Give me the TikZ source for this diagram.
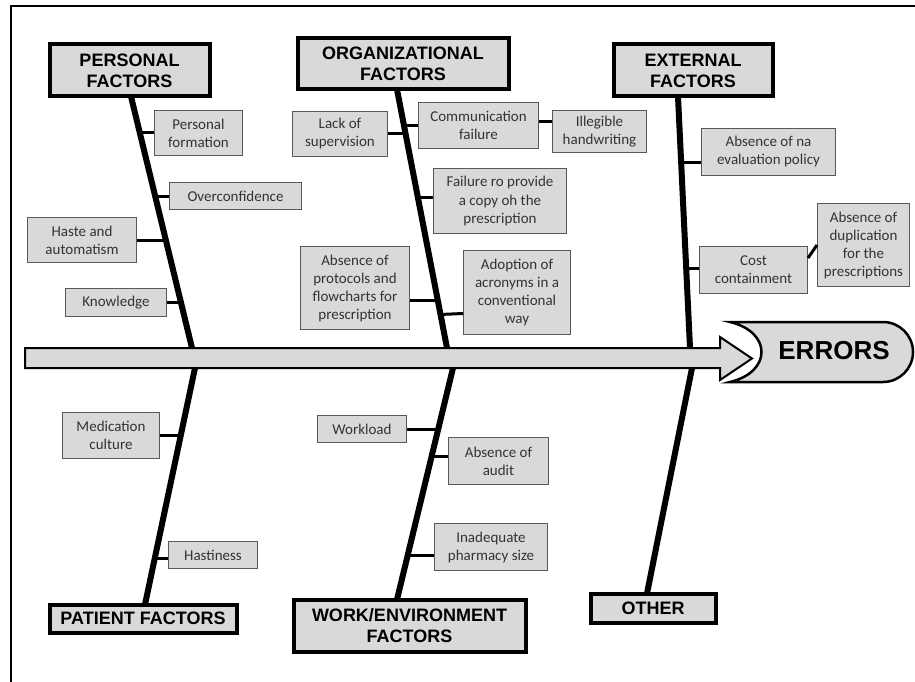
\documentclass[tikz,border=0pt]{standalone}
\usepackage{fontspec}
\setmainfont{Carlito}
\newfontfamily\headfont{Liberation Sans}
\definecolor{boxgray}{HTML}{D9D9D9}
\definecolor{sboxline}{HTML}{595959}
\definecolor{stext}{HTML}{333333}
\tikzset{
  hbox/.style={draw=black, line width=4pt, fill=boxgray, inner sep=0pt, align=center,
    font=\headfont\bfseries\fontsize{18}{21}\selectfont},
  sbox/.style={draw=sboxline, line width=1pt, fill=boxgray, inner sep=0pt, align=center,
    text=stext, font=\fontsize{15}{18}\selectfont},
  spine/.style={line width=6pt, black},
  conn/.style={line width=3pt, black},
}
\begin{document}
\begin{tikzpicture}[x=1pt,y=-1pt]
\useasboundingbox (0,0) rectangle (915,682);
% frame (only top and left visible)
\draw[line width=2pt] (11,684) -- (11,6) -- (917,6);

% heading boxes
\node[hbox, minimum width=160pt, minimum height=52pt] (pers) at (129.5,70.5) {PERSONAL\\FACTORS};
\node[hbox, minimum width=211pt, minimum height=51pt] (org) at (403,64) {ORGANIZATIONAL\\FACTORS};
\node[hbox, minimum width=159pt, minimum height=52pt] (ext) at (693,70.5) {EXTERNAL\\FACTORS};
\node[hbox, minimum width=187pt, minimum height=28pt] (pat) at (143,618.5) {PATIENT FACTORS};
\node[hbox, minimum width=232pt, minimum height=52pt] (work) at (409.5,625.5) {WORK/ENVIRONMENT\\FACTORS};
\node[hbox, minimum width=125pt, minimum height=29pt] (oth) at (653,608) {OTHER};

% small boxes
\node[sbox, minimum width=88pt, minimum height=45pt] (pf) at (198.5,133) {Personal\\formation};
\node[sbox, minimum width=132pt, minimum height=27pt] (oc) at (235.5,196) {Overconfidence};
\node[sbox, minimum width=109pt, minimum height=45pt] (ha) at (82,240) {Haste and\\automatism};
\node[sbox, minimum width=101pt, minimum height=28pt] (kn) at (116,302.5) {Knowledge};
\node[sbox, minimum width=95pt, minimum height=45pt] (ls) at (340,134) {Lack of\\supervision};
\node[sbox, minimum width=120pt, minimum height=46pt] (cf) at (478.5,125.5) {Communication\\failure};
\node[sbox, minimum width=94pt, minimum height=42pt] (ih) at (599.5,131.5) {Illegible\\handwriting};
\node[sbox, minimum width=133pt, minimum height=65pt] (fp) at (500,201) {Failure ro provide\\a copy oh the\\prescription};
\node[sbox, minimum width=109pt, minimum height=83pt] (ap) at (355,288) {Absence of\\protocols and\\flowcharts for\\prescription};
\node[sbox, minimum width=107pt, minimum height=84pt] (aa) at (517,292.5) {Adoption of\\acronyms in a\\conventional\\way};
\node[sbox, minimum width=134pt, minimum height=47pt] (ae) at (768.5,152) {Absence of na\\evaluation policy};
\node[sbox, minimum width=108pt, minimum height=47pt] (cc) at (753.5,270) {Cost\\containment};
\node[sbox, minimum width=92pt, minimum height=83pt] (du) at (863.5,245) {Absence of\\duplication\\for the\\prescriptions};
\node[sbox, minimum width=97pt, minimum height=46pt] (mc) at (111,435.5) {Medication\\culture};
\node[sbox, minimum width=89pt, minimum height=27pt] (hs) at (213,555) {Hastiness};
\node[sbox, minimum width=89pt, minimum height=27pt] (wl) at (362,429) {Workload};
\node[sbox, minimum width=100pt, minimum height=47pt] (au) at (498.5,461) {Absence of\\audit};
\node[sbox, minimum width=113pt, minimum height=47pt] (ip) at (491,547) {Inadequate\\pharmacy size};

% spine end points on the main arrow
\coordinate (a1) at (192,348);
\coordinate (a2) at (447,348);
\coordinate (a3) at (690,348);
\coordinate (b1) at (195,368);
\coordinate (b2) at (453,368);
\coordinate (b3) at (692,368);

% spines
\draw[spine] ([xshift=1.5pt,yshift=2pt]pers.south) -- (a1);
\draw[spine] ([xshift=-6pt,yshift=2pt]org.south) -- (a2);
\draw[spine] ([xshift=-15pt,yshift=2pt]ext.south) -- (a3);
\draw[spine] ([xshift=2pt,yshift=-2pt]pat.north) -- (b1);
\draw[spine] ([xshift=-12.5pt,yshift=-2pt]work.north) -- (b2);
\draw[spine] ([xshift=-6pt,yshift=-2pt]oth.north) -- (b3);

% connectors
\draw[conn] (pf.west) -- ++(-16,0);
\draw[conn] (oc.west) -- ++(-16,0);
\draw[conn] (ha.east) -- ++(30,0);
\draw[conn] (kn.east) -- ++(16,0);
\draw[conn] (ls.east) -- ++(18,0);
\draw[conn] (cf.west) -- ++(-16,0);
\draw[conn] ([yshift=4pt]cf.east) -- ([yshift=4pt]cf.east -| ih.west);
\draw[conn] ([yshift=4pt]fp.west) -- ++(-16,0);
\draw[conn] ([yshift=-12pt]ap.east) -- ++(29,0);
\draw[conn] ([yshift=-21pt]aa.west) -- ++(-23,1);
\draw[conn] ([yshift=-10pt]ae.west) -- ++(-21,0);
\draw[conn] ([yshift=2pt]cc.west) -- ++(-14,0);
\draw[conn] ([yshift=12pt]cc.east) -- (du.west);
\draw[conn] (mc.east) -- ++(22,0);
\draw[conn] ([yshift=-3pt]hs.west) -- ++(-15,0);
\draw[conn] (wl.east) -- ++(32,0);
\draw[conn] ([yshift=5pt]au.west) -- ++(-17,0);
\draw[conn] ([yshift=-8pt]ip.west) -- ++(-28,0);

% main arrow
\draw[line width=2pt, fill=boxgray, line join=miter]
  (25,348) -- (720,348) -- (720,337) -- (752,358.5) -- (720,380) -- (720,368) -- (25,368) -- cycle;

% errors head
\draw[line width=2.5pt, fill=boxgray]
  (730,322) -- (883,322) arc[start angle=-90, end angle=90, radius=30] -- (730,382)
  .. controls (772,372) and (772,332) .. (730,322) -- cycle;
\node[font=\headfont\bfseries\fontsize{26}{30}\selectfont, inner sep=0pt] (err) at (834,351) {ERRORS};
\end{tikzpicture}
\end{document}
